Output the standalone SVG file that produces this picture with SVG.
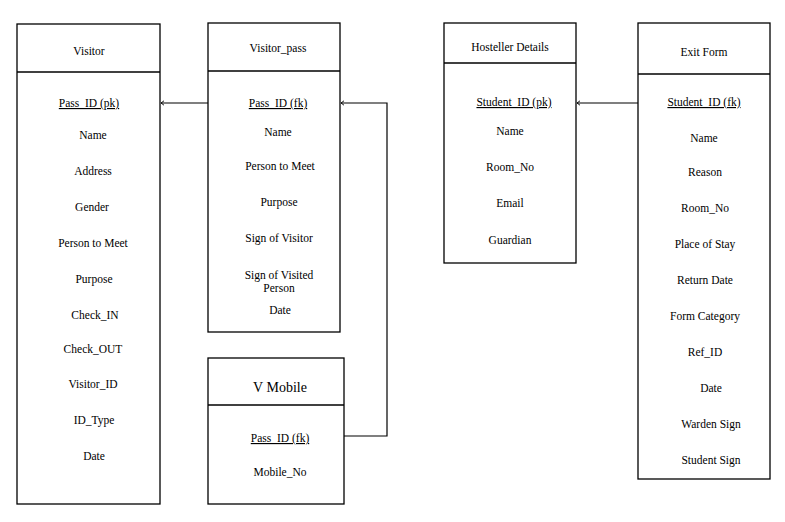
<svg xmlns="http://www.w3.org/2000/svg" width="785" height="522" viewBox="0 0 785 522">
<style>
.box{fill:#fff;stroke:#000;stroke-width:1.3}
.div{stroke:#000;stroke-width:1.3}
text{font-family:"Liberation Serif","DejaVu Serif",serif;font-size:11.5px;fill:#000;text-anchor:middle}
.u{text-decoration:underline}
.big{font-size:14px}
.c{fill:none;stroke:#000;stroke-width:1.2}
</style>
<defs>
<marker id="ah" markerWidth="6" markerHeight="6" refX="3.5" refY="3" orient="auto" markerUnits="userSpaceOnUse">
<path d="M0.5,0.8 L3.5,3 L0.5,5.2" fill="none" stroke="#000" stroke-width="0.9"/>
</marker>
</defs>
<rect width="785" height="522" fill="#fff"/>
<g id="visitor">
<rect class="box" x="17" y="24" width="143" height="480"/>
<line class="div" x1="17" y1="72" x2="160" y2="72"/>
<text x="89" y="55">Visitor</text>
<text class="u" x="89" y="107">Pass_ID (pk)</text>
<text x="93" y="139">Name</text>
<text x="93" y="175">Address</text>
<text x="92" y="211">Gender</text>
<text x="93" y="247">Person to Meet</text>
<text x="94" y="283">Purpose</text>
<text x="95" y="319">Check_IN</text>
<text x="93" y="353">Check_OUT</text>
<text x="93" y="388">Visitor_ID</text>
<text x="94" y="424">ID_Type</text>
<text x="94" y="460">Date</text>
</g>
<g id="visitor_pass">
<rect class="box" x="208" y="23" width="132" height="309"/>
<line class="div" x1="208" y1="71" x2="340" y2="71"/>
<text x="278" y="52">Visitor_pass</text>
<text class="u" x="278" y="107">Pass_ID (fk)</text>
<text x="278" y="136">Name</text>
<text x="280" y="170">Person to Meet</text>
<text x="279" y="206">Purpose</text>
<text x="279" y="242">Sign of Visitor</text>
<text x="279" y="279">Sign of Visited</text>
<text x="279" y="292">Person</text>
<text x="280" y="314">Date</text>
</g>
<g id="v_mobile">
<rect class="box" x="208" y="358" width="136" height="146"/>
<line class="div" x1="208" y1="405" x2="344" y2="405"/>
<text class="big" x="280" y="392">V  Mobile</text>
<text class="u" x="280" y="442">Pass_ID (fk)</text>
<text x="280" y="476">Mobile_No</text>
</g>
<g id="hosteller_details">
<rect class="box" x="444" y="23" width="132" height="240"/>
<line class="div" x1="444" y1="63" x2="576" y2="63"/>
<text x="510" y="51">Hosteller Details</text>
<text class="u" x="514" y="106">Student_ID (pk)</text>
<text x="510" y="135">Name</text>
<text x="510" y="171">Room_No</text>
<text x="510" y="207">Email</text>
<text x="510" y="244">Guardian</text>
</g>
<g id="exit_form">
<rect class="box" x="638" y="23" width="132" height="456"/>
<line class="div" x1="638" y1="74" x2="770" y2="74"/>
<text x="704" y="56">Exit Form</text>
<text class="u" x="704" y="106">Student_ID (fk)</text>
<text x="704" y="142">Name</text>
<text x="705" y="176">Reason</text>
<text x="705" y="212">Room_No</text>
<text x="705" y="248">Place of Stay</text>
<text x="705" y="284">Return Date</text>
<text x="705" y="320">Form Category</text>
<text x="705" y="356">Ref_ID</text>
<text x="711" y="392">Date</text>
<text x="711" y="428">Warden Sign</text>
<text x="711" y="464">Student Sign</text>
</g>
<g id="connectors">
<line class="c" x1="208" y1="103" x2="161" y2="103" marker-end="url(#ah)"/>
<polyline class="c" points="344,436 387,436 387,103 341,103" marker-end="url(#ah)"/>
<line class="c" x1="638" y1="103" x2="577" y2="103" marker-end="url(#ah)"/>
</g>
</svg>
